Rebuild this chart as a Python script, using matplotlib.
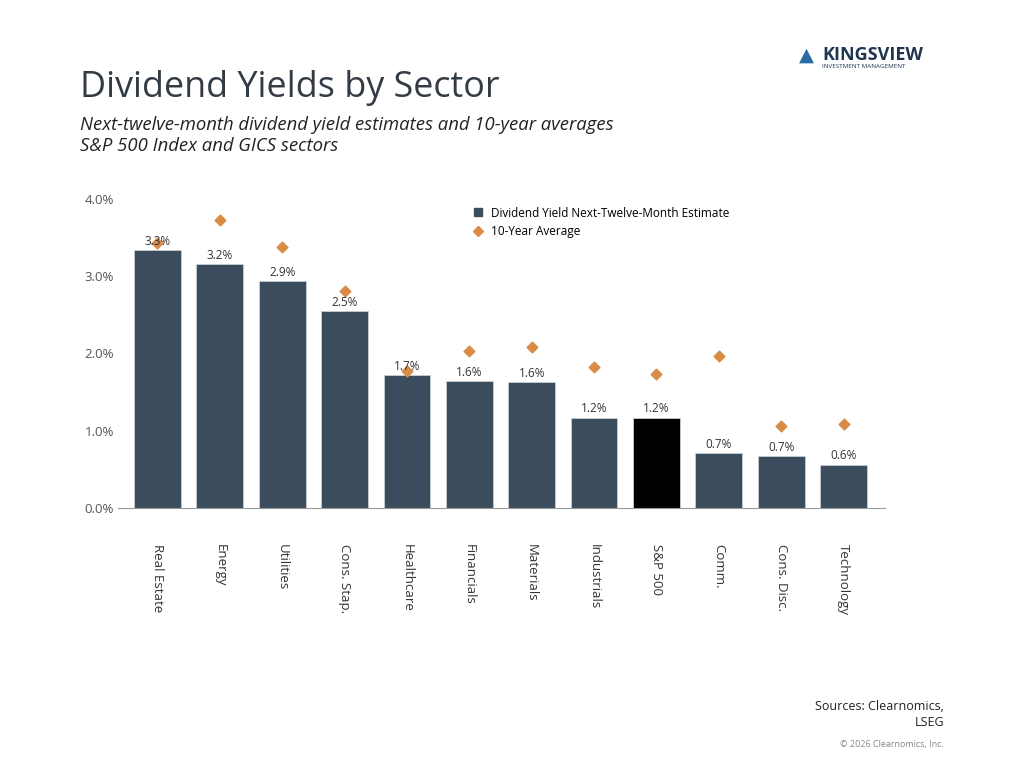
import matplotlib.pyplot as plt
from matplotlib.lines import Line2D
import numpy as np

# data
sectors = ['Real Estate', 'Energy', 'Utilities', 'Cons. Stap.', 'Healthcare', 'Financials',
           'Materials', 'Industrials', 'S&P 500', 'Comm.', 'Cons. Disc.', 'Technology']
ntm_yield = [3.34, 3.16, 2.94, 2.55, 1.72, 1.64, 1.63, 1.17, 1.17, 0.71, 0.67, 0.56]
avg_10y = [3.43, 3.73, 3.38, 2.81, 1.77, 2.03, 2.08, 1.83, 1.73, 1.97, 1.06, 1.09]
yticks = [0, 1, 2, 3, 4]

bar_col = '#3b4d5c'
dot_col = '#d98c47'

plt.rcParams['font.family'] = ['Open Sans', 'DejaVu Sans']

fig = plt.figure(figsize=(10.24, 7.68), dpi=100)
fig.patch.set_facecolor('white')

# header
fig.text(80/1024, 1 - 88/768, 'Dividend Yields by Sector', fontsize=25.8, color='#333c44',
         va='center', ha='left')
fig.text(80/1024, 1 - 125/768, 'Next-twelve-month dividend yield estimates and 10-year averages',
         fontsize=13.3, style='italic', color='#222222', va='center')
fig.text(80/1024, 1 - 146/768, 'S&P 500 Index and GICS sectors',
         fontsize=13.3, style='italic', color='#222222', va='center')

# logo text
fig.text(822/1024, 1 - 55/768, 'KINGSVIEW', fontsize=13, fontweight='bold', color='#1f3550',
         va='center', ha='left')
fig.text(822/1024, 1 - 67/768, 'INVESTMENT MANAGEMENT', fontsize=4.5, color='#1f3550',
         va='center', ha='left')
fig.text(806/1024, 1 - 56/768, '\u25B2', fontsize=14, color='#2a6aa5', va='center', ha='center')

# plot area
ax = fig.add_axes([118/1024, 1 - 508/768, (885 - 118)/1024, (508 - 199)/768])
x = np.arange(len(sectors))
colors = ['black' if s == 'S&P 500' else bar_col for s in sectors]
ax.bar(x, ntm_yield, width=0.75, color=colors, edgecolor='#c8ced4', linewidth=0.6, zorder=2)
ax.scatter(x, avg_10y, marker='D', s=30, color=dot_col, zorder=3)

for xi, v in zip(x, ntm_yield):
    ax.text(xi, v + 0.03, f'{v:.1f}%', ha='center', va='bottom', fontsize=8.5, color='#333333',
            zorder=4)

ax.set_xlim(-0.633, len(sectors) - 1 + 0.665)
ax.set_ylim(0, 4.0)
ax.set_yticks(yticks)
ax.set_yticklabels([f'{t:.1f}%' for t in yticks], fontsize=9.5, color='#555555')
ax.set_xticks(x)
ax.set_xticklabels(sectors, rotation=270, fontsize=9.5, color='#333333', va='top')
ax.tick_params(axis='x', length=0, pad=26)
ax.tick_params(axis='y', length=0, pad=3)
for s in ['top', 'right', 'left']:
    ax.spines[s].set_visible(False)
ax.spines['bottom'].set_color('#999999')

handles = [Line2D([], [], marker='s', linestyle='none', color=bar_col, markersize=6),
           Line2D([], [], marker='D', linestyle='none', color=dot_col, markersize=5)]
ax.legend(handles, ['Dividend Yield Next-Twelve-Month Estimate', '10-Year Average'],
          loc='upper left', bbox_to_anchor=(0.448, 1.01), frameon=False, fontsize=8.5,
          handlelength=1.0, handletextpad=0.6, labelspacing=0.45)

# footer
fig.text(944/1024, 1 - 715/768, 'Sources: Clearnomics,\nLSEG', fontsize=9, ha='right', va='center',
         color='#222222', linespacing=1.3)
fig.text(944/1024, 1 - 744/768, '\u00a9 2026 Clearnomics, Inc.', fontsize=6.5, ha='right',
         va='center', color='#888888')

fig.savefig('out.png', dpi=100)
